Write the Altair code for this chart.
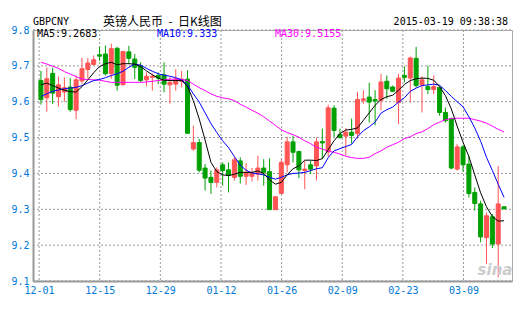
import altair as alt
import pandas as pd

# ---- data (GBPCNY daily K-line) ----
opens = [9.659, 9.611, 9.679, 9.614, 9.627, 9.641, 9.576, 9.658, 9.690, 9.704,
         9.731, 9.733, 9.678, 9.749, 9.647, 9.739, 9.719, 9.700, 9.661, 9.668,
         9.673, 9.675, 9.647, 9.649, 9.657, 9.663, 9.468, 9.486, 9.415, 9.389,
         9.375, 9.424, 9.410, 9.389, 9.435, 9.392, 9.392, 9.398, 9.415, 9.405,
         9.299, 9.344, 9.424, 9.488, 9.461, 9.408, 9.424, 9.421, 9.489, 9.460,
         9.582, 9.508, 9.504, 9.515, 9.511, 9.604, 9.613, 9.606, 9.604, 9.657,
         9.641, 9.598, 9.673, 9.666, 9.721, 9.647, 9.642, 9.634, 9.640, 9.570,
         9.552, 9.412, 9.474, 9.426, 9.347, 9.315, 9.221, 9.279, 9.203, 9.307]
highs = [9.686, 9.695, 9.695, 9.670, 9.668, 9.666, 9.673, 9.722, 9.722, 9.729,
         9.753, 9.757, 9.762, 9.753, 9.742, 9.756, 9.733, 9.710, 9.682, 9.679,
         9.682, 9.710, 9.668, 9.691, 9.686, 9.688, 9.533, 9.496, 9.426, 9.408,
         9.417, 9.431, 9.431, 9.445, 9.445, 9.429, 9.415, 9.449, 9.440, 9.442,
         9.335, 9.440, 9.502, 9.505, 9.463, 9.435, 9.435, 9.500, 9.525, 9.592,
         9.590, 9.525, 9.527, 9.553, 9.627, 9.632, 9.653, 9.632, 9.678, 9.673,
         9.645, 9.678, 9.698, 9.726, 9.753, 9.671, 9.700, 9.673, 9.640, 9.584,
         9.556, 9.482, 9.479, 9.449, 9.361, 9.324, 9.291, 9.287, 9.421, 9.307]
lows = [9.592, 9.572, 9.594, 9.586, 9.600, 9.572, 9.551, 9.650, 9.666, 9.701,
        9.714, 9.673, 9.664, 9.631, 9.647, 9.705, 9.663, 9.654, 9.643, 9.631,
        9.649, 9.626, 9.595, 9.631, 9.640, 9.510, 9.463, 9.403, 9.352, 9.343,
        9.361, 9.366, 9.347, 9.380, 9.372, 9.368, 9.378, 9.380, 9.366, 9.299,
        9.299, 9.344, 9.403, 9.431, 9.387, 9.356, 9.398, 9.380, 9.441, 9.446,
        9.502, 9.497, 9.450, 9.483, 9.497, 9.594, 9.542, 9.534, 9.576, 9.608,
        9.627, 9.538, 9.654, 9.598, 9.640, 9.570, 9.621, 9.621, 9.561, 9.542,
        9.412, 9.408, 9.405, 9.333, 9.296, 9.208, 9.147, 9.192, 9.110, 9.301]
closes = [9.606, 9.664, 9.624, 9.647, 9.639, 9.578, 9.661, 9.692, 9.708, 9.717,
          9.727, 9.678, 9.748, 9.646, 9.740, 9.721, 9.696, 9.659, 9.671, 9.671,
          9.666, 9.649, 9.654, 9.663, 9.663, 9.512, 9.486, 9.409, 9.387, 9.375,
          9.410, 9.408, 9.394, 9.438, 9.392, 9.403, 9.401, 9.415, 9.403, 9.299,
          9.335, 9.431, 9.488, 9.459, 9.410, 9.412, 9.412, 9.488, 9.485, 9.583,
          9.520, 9.500, 9.515, 9.506, 9.606, 9.608, 9.599, 9.602, 9.655, 9.636,
          9.629, 9.666, 9.668, 9.722, 9.645, 9.661, 9.634, 9.642, 9.570, 9.547,
          9.415, 9.474, 9.424, 9.344, 9.316, 9.223, 9.282, 9.203, 9.315, 9.301]
ma5 = [9.647, 9.652, 9.645, 9.638, 9.632, 9.628, 9.627, 9.642, 9.661, 9.681,
       9.698, 9.706, 9.710, 9.703, 9.706, 9.706, 9.705, 9.698, 9.686, 9.675,
       9.666, 9.660, 9.659, 9.659, 9.659, 9.643, 9.603, 9.552, 9.493, 9.431,
       9.405, 9.396, 9.394, 9.398, 9.403, 9.403, 9.403, 9.407, 9.400, 9.382,
       9.370, 9.375, 9.396, 9.413, 9.421, 9.437, 9.437, 9.436, 9.441, 9.466,
       9.491, 9.511, 9.521, 9.523, 9.527, 9.548, 9.569, 9.590, 9.606, 9.614,
       9.618, 9.632, 9.648, 9.659, 9.664, 9.666, 9.665, 9.660, 9.642, 9.617,
       9.580, 9.532, 9.487, 9.447, 9.396, 9.346, 9.307, 9.280, 9.267, 9.268]
ma10 = [9.615, 9.622, 9.629, 9.633, 9.636, 9.638, 9.640, 9.645, 9.652, 9.659,
        9.662, 9.667, 9.673, 9.678, 9.685, 9.696, 9.705, 9.702, 9.693, 9.685,
        9.678, 9.674, 9.671, 9.667, 9.661, 9.647, 9.622, 9.599, 9.569, 9.539,
        9.514, 9.491, 9.472, 9.447, 9.423, 9.409, 9.401, 9.399, 9.396, 9.389,
        9.384, 9.389, 9.396, 9.400, 9.401, 9.403, 9.408, 9.413, 9.416, 9.444,
        9.463, 9.469, 9.475, 9.481, 9.502, 9.519, 9.530, 9.543, 9.568, 9.578,
        9.585, 9.599, 9.611, 9.629, 9.638, 9.645, 9.647, 9.649, 9.646, 9.631,
        9.615, 9.600, 9.586, 9.558, 9.527, 9.490, 9.445, 9.408, 9.370, 9.333]
ma30 = [9.710, 9.705, 9.699, 9.693, 9.684, 9.677, 9.670, 9.663, 9.662, 9.661,
        9.660, 9.657, 9.654, 9.654, 9.654, 9.654, 9.654, 9.654, 9.655, 9.657,
        9.659, 9.661, 9.663, 9.663, 9.662, 9.659, 9.649, 9.639, 9.631, 9.622,
        9.615, 9.611, 9.608, 9.603, 9.593, 9.585, 9.576, 9.568, 9.558, 9.546,
        9.534, 9.522, 9.514, 9.508, 9.501, 9.491, 9.483, 9.473, 9.468, 9.462,
        9.459, 9.454, 9.448, 9.444, 9.442, 9.442, 9.445, 9.455, 9.463, 9.473,
        9.480, 9.487, 9.497, 9.502, 9.511, 9.516, 9.525, 9.536, 9.543, 9.550,
        9.553, 9.554, 9.554, 9.554, 9.550, 9.546, 9.540, 9.532, 9.523, 9.5155]
tick_idx = [1, 11, 21, 31, 41, 51, 61, 71]
tick_labels = ["12-01", "12-15", "12-29", "01-12", "01-26", "02-09", "02-23", "03-09"]
y_ticks = [9.1, 9.2, 9.3, 9.4, 9.5, 9.6, 9.7, 9.8]

n = len(closes)
dates = pd.bdate_range("2014-11-28", periods=n).strftime("%Y-%m-%d")
df = pd.DataFrame({"i": list(range(n)), "date": list(dates), "open": opens, "high": highs,
                   "low": lows, "close": closes, "ma5": ma5, "ma10": ma10, "ma30": ma30})
ticks_df = pd.DataFrame({"k": tick_idx, "label": tick_labels})
yticks_df = pd.DataFrame({"v": y_ticks})

W, H = 479, 251
RED = "#ff5555"
GREEN = "#00a000"
BLUE_LBL = "#0078d7"
GRID = "#999999"
MONO = "DejaVu Sans Mono"

col = alt.condition("datum.close >= datum.open", alt.value(RED), alt.value(GREEN))
xenc = alt.X("i:Q", scale=alt.Scale(domain=[-0.5, n - 0.5], nice=False, zero=False), axis=None)
yscale = alt.Scale(domain=[9.1, 9.8], nice=False, zero=False)
yaxis = alt.Axis(values=y_ticks, format=".1f", grid=False, ticks=False, labelPadding=4,
                 domainColor="#999999", domainWidth=2,
                 labelFont=MONO, labelFontSize=10, labelColor=BLUE_LBL, title=None)

base = alt.Chart(df)

hgrid = alt.Chart(yticks_df).mark_rule(color=GRID, strokeDash=[2, 2], strokeWidth=1).encode(
    y=alt.Y("v:Q", scale=yscale, axis=yaxis), x=alt.value(0), x2=alt.value(W))
wicks = base.mark_rule(strokeWidth=1).encode(
    x=xenc, y=alt.Y("low:Q", scale=yscale, axis=yaxis), y2="high:Q", color=col)
bodies = base.mark_bar(size=4, strokeWidth=1).encode(
    x=xenc, y=alt.Y("open:Q", scale=yscale, axis=yaxis), y2="close:Q", color=col, stroke=col)
l5 = base.mark_line(color="#000000", strokeWidth=1).encode(
    x=xenc, y=alt.Y("ma5:Q", scale=yscale, axis=yaxis))
l10 = base.mark_line(color="#0000ff", strokeWidth=1).encode(
    x=xenc, y=alt.Y("ma10:Q", scale=yscale, axis=yaxis))
l30 = base.mark_line(color="#ff00ff", strokeWidth=1).encode(
    x=xenc, y=alt.Y("ma30:Q", scale=yscale, axis=yaxis))

label_expr = "[" + ",".join("'%s'" % s for s in tick_labels) + "][indexof([" + \
    ",".join(str(v) for v in tick_idx) + "], datum.value)]"
vgrid = alt.Chart(ticks_df).mark_rule(color=GRID, strokeDash=[2, 2], strokeWidth=1).encode(
    x=alt.X("k:Q", scale=alt.Scale(domain=[0, n - 1], nice=False, zero=False),
            axis=alt.Axis(orient="bottom", values=tick_idx, labelExpr=label_expr, grid=False,
                          ticks=False, labelPadding=4, domainColor="#999999", domainWidth=2,
                          labelFont=MONO, labelFontSize=10, labelColor=BLUE_LBL,
                          labelFlush=False, labelOverlap=False, title=None)),
    y=alt.value(0), y2=alt.value(H))

one = pd.DataFrame({"a": [0]})


def txt(s, x, y, color="#000000", align="left", font=MONO, size=10, **kw):
    return alt.Chart(one).mark_text(text=s, align=align, baseline="middle", font=font,
                                    fontSize=size, color=color, **kw).encode(
        x=alt.value(x), y=alt.value(y))


NB = "\u00a0"
texts = [
    txt("sina", 462, 240, color="#cccccc", align="center", font="DejaVu Sans",
        size=15, fontStyle="italic", fontWeight="bold"),
    txt("GBPCNY", 0, -8),
    txt("英镑人民币" + NB * 2 + "-" + NB * 2 + "日K线图", 70, -8, font="Noto Sans CJK SC", size=12),
    txt("2015-03-19 09:38:38", 475, -8, align="right"),
    txt("MA5:9.2683", 4, 4),
    txt("MA10:9.333", 124, 4, color="#0000ff"),
    txt("MA30:9.5155", 242, 4, color="#ff00ff"),
]

main = alt.layer(hgrid, wicks, bodies, l30, l10, l5)

chart = alt.layer(vgrid, main, *texts).resolve_scale(x="independent").properties(
    width=W, height=H,
    autosize=alt.AutoSizeParams(type="none"),
    padding={"left": 33, "top": 30, "right": 16, "bottom": 30},
    background="white",
).configure_view(stroke="#aaaaaa", strokeWidth=1)

chart.save("out.html", embed_options={"renderer": "svg", "actions": False})
